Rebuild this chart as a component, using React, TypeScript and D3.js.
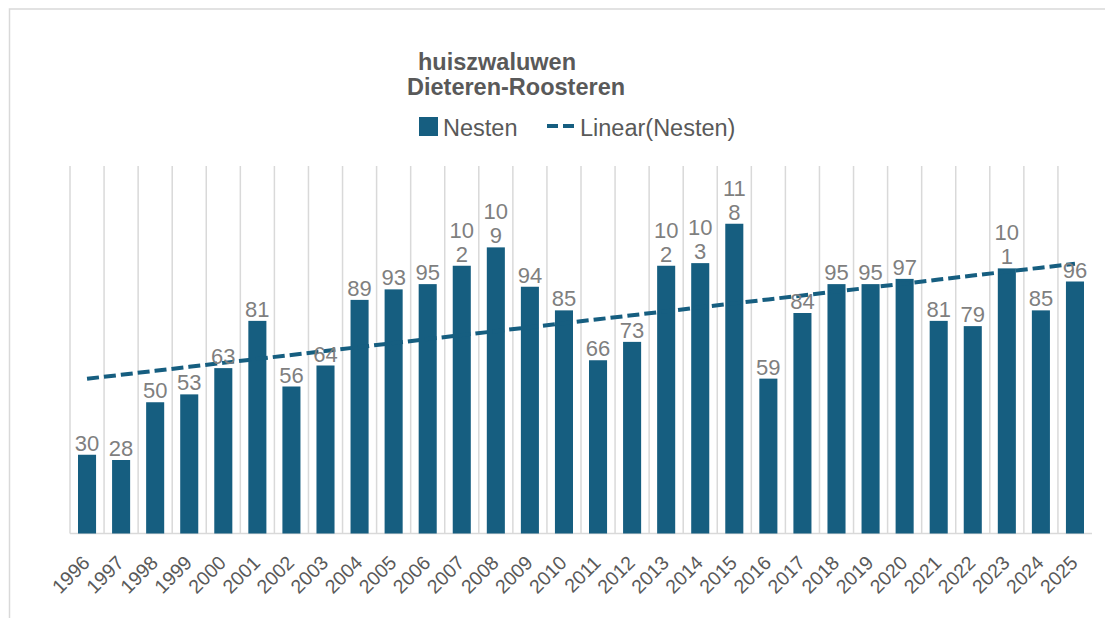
import React from 'react';
// @ts-ignore
import * as d3 from 'd3';

const years = [
	'1996', '1997', '1998', '1999', '2000', '2001', '2002', '2003', '2004', '2005',
	'2006', '2007', '2008', '2009', '2010', '2011', '2012', '2013', '2014', '2015',
	'2016', '2017', '2018', '2019', '2020', '2021', '2022', '2023', '2024', '2025',
];
const nesten = [
	30, 28, 50, 53, 63, 81, 56, 64, 89, 93,
	95, 102, 109, 94, 85, 66, 73, 102, 103, 118,
	59, 84, 95, 95, 97, 81, 79, 101, 85, 96,
];
const titleLines = ['huiszwaluwen', 'Dieteren-Roosteren'];
const seriesName = 'Nesten';
const trendName = 'Linear(Nesten)';

const BAR = '#165e80';
const GRID = '#d9d9d9';
const FONT = '"Liberation Sans", Arial, sans-serif';

const width = 1105;
const height = 618;
const plot = { left: 70, right: 1092, top: 166, bottom: 533.5 };

const App: React.FC = () => {
	const x = d3.scaleBand<string>()
		.domain(years)
		.range([plot.left, plot.right])
		.padding(0);
	const step = x.bandwidth();
	const barW = step * 0.53;

	const y = d3.scaleLinear()
		.domain([0, 140])
		.range([plot.bottom, plot.top]);

	// least squares trend over the category index, as Excel does
	const idx = nesten.map((_, i) => i + 1);
	const mx = d3.mean(idx) as number;
	const my = d3.mean(nesten) as number;
	const slope = d3.sum(idx.map((v, i) => (v - mx) * (nesten[i] - my))) /
		d3.sum(idx.map(v => (v - mx) * (v - mx)));
	const icpt = my - slope * mx;
	const trend = idx.map(v => icpt + slope * v);

	const line = d3.line<number>()
		.x((_, i) => (x(years[i]) as number) + step / 2)
		.y(d => y(d));

	// Excel wraps 3 digit labels into two lines in the narrow column
	const labelLines = (v: number) => {
		const s = String(v);
		return s.length > 2 ? [s.slice(0, 2), s.slice(2)] : [s];
	};

	return (
		<svg width={width} height={height}
			style={{ position: 'absolute', left: 0, top: 0, background: '#fff' }}
			fontFamily={FONT}>
			<rect x={9.5} y={9} width={1110} height={620} fill="#fff" stroke={GRID} strokeWidth={1.5} />

			<g fill="#595959" fontWeight="bold" fontSize={23.5}>
				<text x={418} y={70}>{titleLines[0]}</text>
				<text x={407} y={95}>{titleLines[1]}</text>
			</g>

			<g fontSize={23.5} fill="#595959">
				<rect x={419} y={117} width={19} height={19} fill={BAR} />
				<text x={443} y={136}>{seriesName}</text>
				<line x1={547} x2={575} y1={126} y2={126} stroke={BAR} strokeWidth={4} strokeDasharray="11,5" />
				<text x={580} y={136}>{trendName}</text>
			</g>

			<g stroke={GRID} strokeWidth={1.5}>
				{years.map(yr => (
					<line key={yr} x1={x(yr)} x2={x(yr)} y1={plot.top} y2={plot.bottom} />
				))}
				<line x1={plot.left} x2={plot.right} y1={plot.bottom} y2={plot.bottom} />
			</g>

			<g fill={BAR}>
				{years.map((yr, i) => (
					<rect key={yr}
						x={(x(yr) as number) + (step - barW) / 2}
						y={y(nesten[i])}
						width={barW}
						height={y(0) - y(nesten[i])} />
				))}
			</g>

			<path d={line(trend) as string} fill="none" stroke={BAR} strokeWidth={4} strokeDasharray="12,5" />

			<g fontSize={22} fill="#7f7f7f" textAnchor="middle">
				{years.map((yr, i) => {
					const lines = labelLines(nesten[i]);
					const cx = (x(yr) as number) + step / 2;
					const base = y(nesten[i]) - 4;
					return (
						<text key={yr}>
							{lines.map((t, j) => (
								<tspan key={j} x={cx} y={base - (lines.length - 1 - j) * 24}>{t}</tspan>
							))}
						</text>
					);
				})}
			</g>

			<g fontSize={19.5} fill="#595959" textAnchor="end">
				{years.map(yr => {
					const ex = (x(yr) as number) + step / 2 + 4;
					const ey = 564;
					return (
						<text key={yr} x={ex} y={ey} transform={`rotate(-45 ${ex} ${ey})`}>{yr}</text>
					);
				})}
			</g>
		</svg>
	);
};

export default App;
